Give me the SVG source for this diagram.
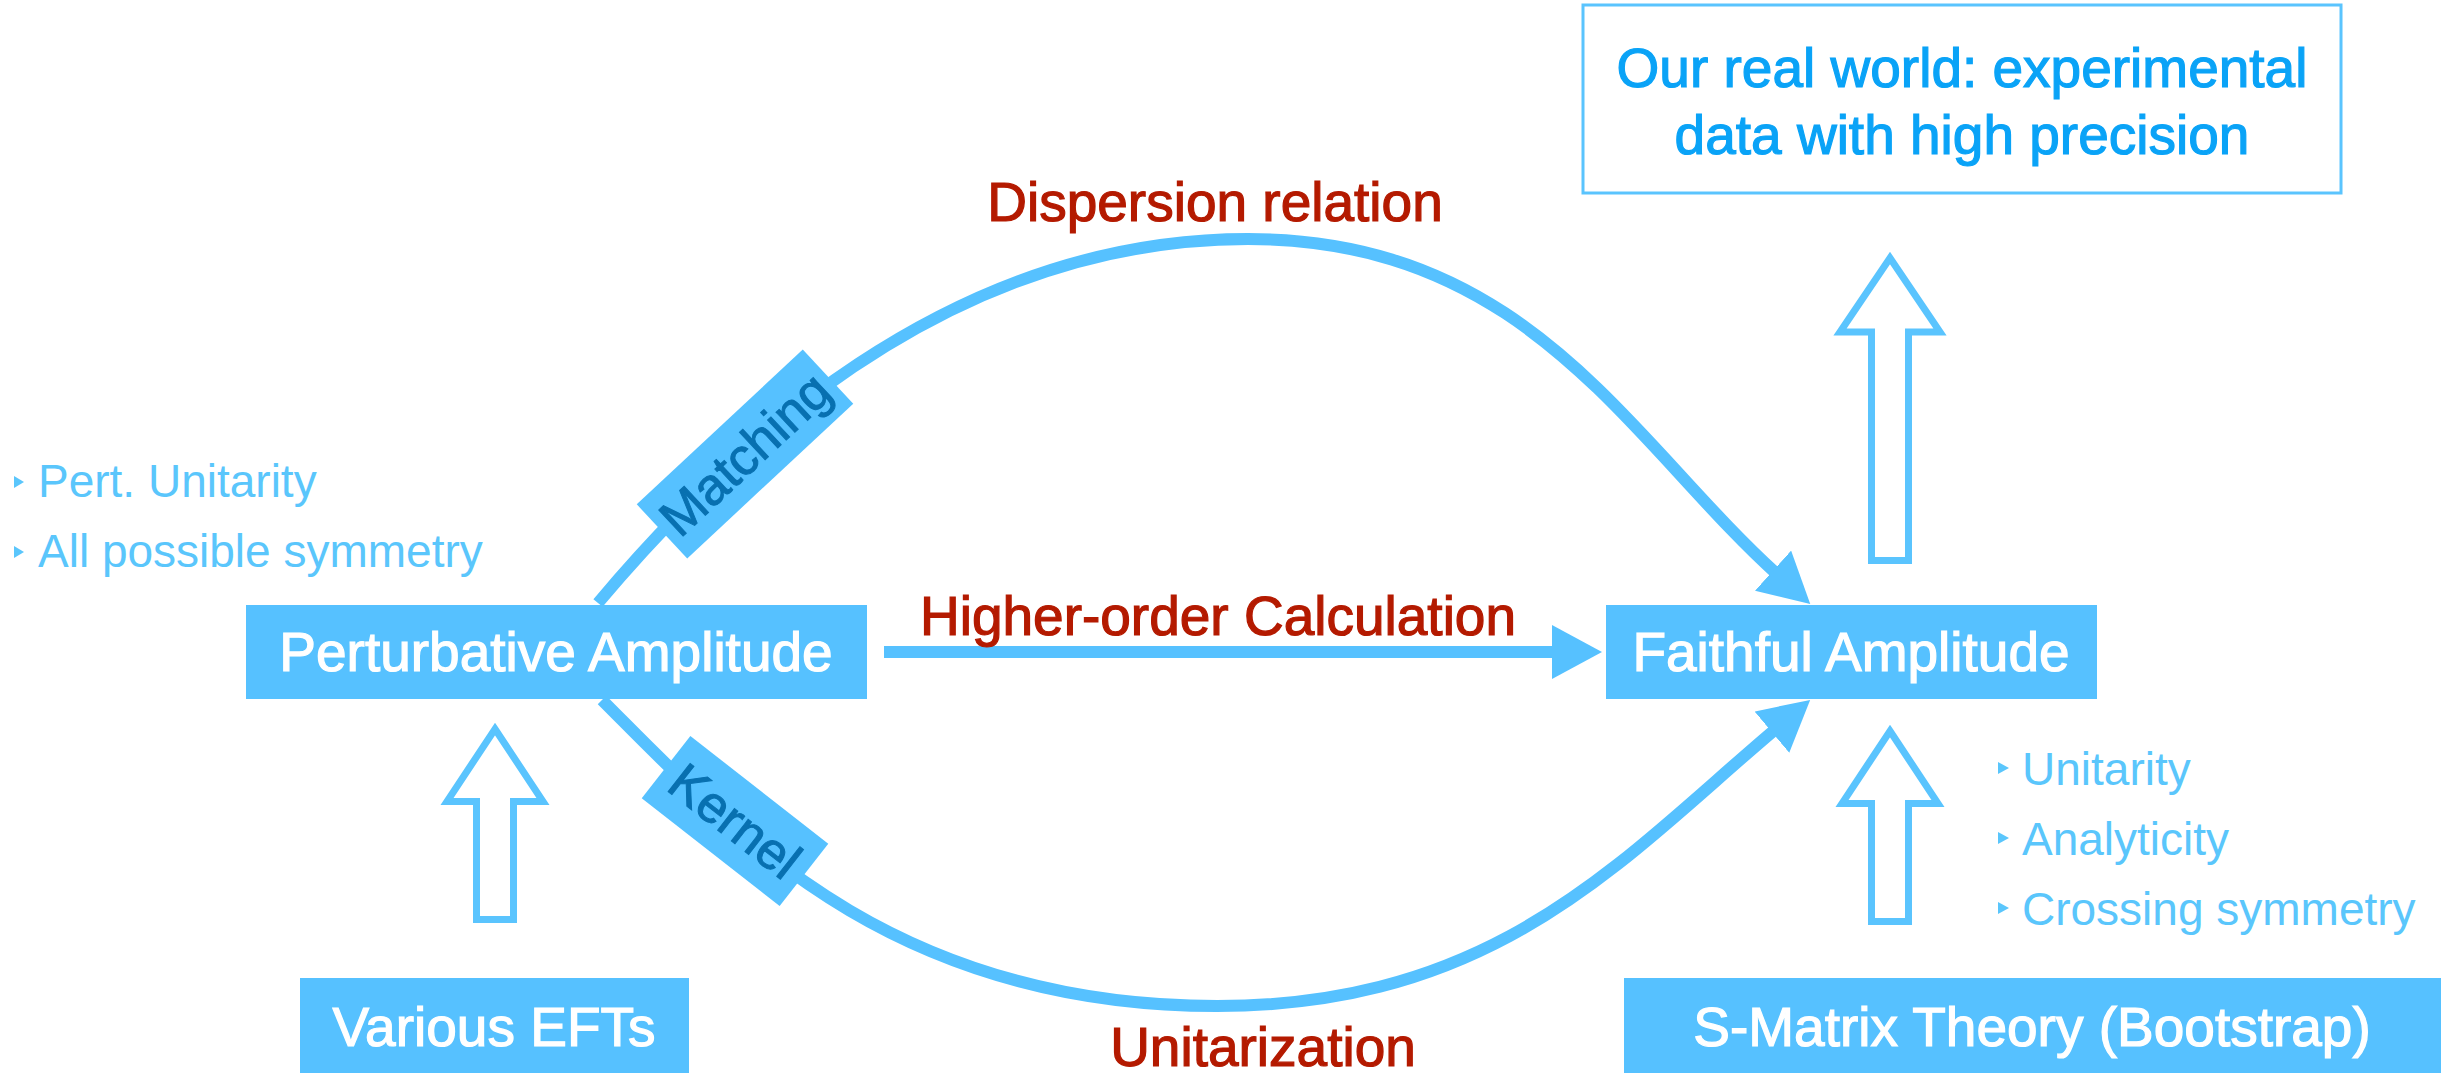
<svg xmlns="http://www.w3.org/2000/svg" width="2446" height="1081" viewBox="0 0 2446 1081">
<style>
.box{fill:#56C1FF}
.boxtxt{font-family:"Liberation Sans",Arial,sans-serif;font-size:55px;fill:#ffffff;stroke:#ffffff;stroke-width:1.2;text-anchor:middle}
.red{font-family:"Liberation Sans",Arial,sans-serif;font-size:55px;fill:#B41A00;stroke:#B41A00;stroke-width:1.2;text-anchor:middle}
.blue{font-family:"Liberation Sans",Arial,sans-serif;font-size:55px;fill:#0AA3F7;stroke:#0AA3F7;stroke-width:1.2;text-anchor:middle}
.bul{font-family:"Liberation Sans",Arial,sans-serif;font-size:46px;fill:#5AC6FC}
.lbl{fill:#56C1FF}
.lbltxt{font-family:"Liberation Sans",Arial,sans-serif;font-size:52px;fill:#0870B0;stroke:#0870B0;stroke-width:1;text-anchor:middle}
.conn{fill:none;stroke:#56C1FF;stroke-width:12}
.hollow{fill:#ffffff;stroke:#5AC4FE;stroke-width:7;stroke-linejoin:miter}
.tri{fill:#5AC6FC}
</style>
<defs>
<marker id="ah" markerUnits="userSpaceOnUse" markerWidth="50" markerHeight="54" viewBox="0 0 50 54" refX="8" refY="27" orient="auto">
<path d="M0,0 L50,27 L0,54 Z" fill="#56C1FF"/>
</marker>
<polygon id="harrow" points="0,6 48,78.5 18.5,78.5 18.5,196.5 -18.5,196.5 -18.5,78.5 -48,78.5"/>
</defs>

<g id="connectors">
<path class="conn" d="M598,603 C726.6,449.8 948,239 1248,239 C1530,239 1630,442 1779,576" marker-end="url(#ah)"/>
<path class="conn" d="M602,700 C729,827 887,1006 1217,1006 C1500,1006 1625,855.6 1778,727" marker-end="url(#ah)"/>
<line class="conn" x1="884" y1="652" x2="1560" y2="652" marker-end="url(#ah)"/>
<text class="red" x="1215" y="221">Dispersion relation</text>
<text class="red" x="1218" y="635">Higher-order Calculation</text>
<text class="red" x="1263" y="1066">Unitarization</text>
<g id="label-matching" transform="translate(745,454) rotate(-43)">
<rect class="lbl" x="-113.5" y="-37" width="227" height="74"/>
<text class="lbltxt" x="0" y="18">Matching</text>
</g>
<g id="label-kernel" transform="translate(735,821) rotate(38)">
<rect class="lbl" x="-87.5" y="-39.5" width="175" height="79"/>
<text class="lbltxt" x="0" y="18">Kernel</text>
</g>
<use href="#harrow" class="hollow" transform="translate(495,723)"/>
<use href="#harrow" class="hollow" transform="translate(1890,725)"/>
<polygon class="hollow" points="1890,258 1940,332 1908.5,332 1908.5,560.5 1871.5,560.5 1871.5,332 1840,332"/>
</g>

<g id="node-realworld">
<rect x="1583" y="5" width="758" height="188" fill="#ffffff" stroke="#5AC4FE" stroke-width="3"/>
<text class="blue" x="1962" y="87">Our real world: experimental</text>
<text class="blue" x="1962" y="154">data with high precision</text>
</g>

<g id="node-perturbative">
<rect class="box" x="246" y="605" width="621" height="94"/>
<text class="boxtxt" x="556" y="671">Perturbative Amplitude</text>
</g>

<g id="node-faithful">
<rect class="box" x="1606" y="605" width="491" height="94"/>
<text class="boxtxt" x="1851" y="671">Faithful Amplitude</text>
</g>

<g id="node-efts">
<rect class="box" x="300" y="978" width="389" height="95"/>
<text class="boxtxt" x="494" y="1046">Various EFTs</text>
</g>

<g id="node-smatrix">
<rect class="box" x="1624" y="978" width="817" height="95"/>
<text class="boxtxt" x="2032" y="1046">S-Matrix Theory (Bootstrap)</text>
</g>

<g id="notes-left">
<polygon class="tri" points="14,476 24,482 14,488"/>
<text class="bul" x="38" y="497">Pert. Unitarity</text>
<polygon class="tri" points="14,546 24,552 14,558"/>
<text class="bul" x="38" y="567">All possible symmetry</text>
</g>

<g id="notes-right">
<polygon class="tri" points="1998,762 2009,768 1998,774"/>
<text class="bul" x="2022" y="785">Unitarity</text>
<polygon class="tri" points="1998,832 2009,838 1998,844"/>
<text class="bul" x="2022" y="855">Analyticity</text>
<polygon class="tri" points="1998,902 2009,908 1998,914"/>
<text class="bul" x="2022" y="925">Crossing symmetry</text>
</g>
</svg>
